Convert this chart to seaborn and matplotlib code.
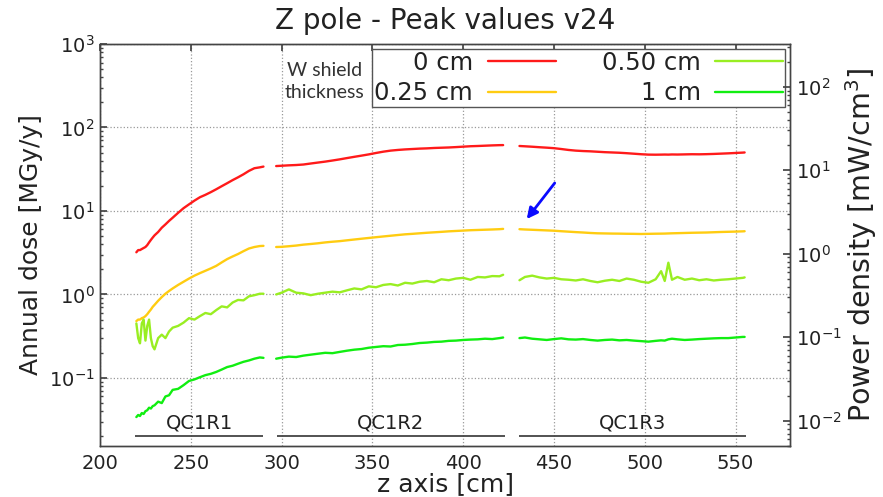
import numpy as np
import pandas as pd
import matplotlib
matplotlib.use("Agg")
import matplotlib.pyplot as plt
import seaborn as sns
from matplotlib.lines import Line2D

# z positions [cm] sampled along the three quadrupole sections
z_qc1r1 = [220, 221, 222, 223, 224, 225, 226, 227, 228, 229, 230, 232, 234, 236, 238,
           240, 243, 246, 249, 252, 255, 258, 261, 264, 267, 270, 273, 276, 279, 282,
           285, 288, 290]
z_qc1r2 = [297, 300, 304, 308, 312, 316, 320, 324, 328, 332, 336, 340, 344, 348, 352,
           356, 360, 364, 368, 372, 376, 380, 384, 388, 392, 396, 400, 404, 408, 412,
           416, 420, 422]
z_qc1r3 = [431, 434, 438, 442, 446, 450, 454, 458, 462, 466, 470, 474, 478, 482, 486,
           490, 494, 498, 502, 506, 509, 511, 513, 515, 518, 522, 526, 530, 534, 538,
           542, 546, 550, 554, 555]

# peak annual dose [MGy/y] for each W shield thickness
dose_0cm = {
    "QC1R1": [3.2, 3.4, 3.4, 3.5, 3.6, 3.7, 3.9, 4.2, 4.5, 4.8, 5.1, 5.6, 6.3, 6.9, 7.6,
              8.3, 9.5, 10.8, 12.0, 13.3, 14.6, 15.6, 16.8, 18.2, 19.8, 21.5, 23.4, 25.3,
              27.5, 30.2, 32.5, 33.3, 34.0],
    "QC1R2": [34.5, 34.8, 35.2, 35.5, 36.0, 37.0, 38.0, 39.0, 40.2, 41.5, 43.0, 44.5,
              46.0, 47.6, 49.5, 51.3, 52.8, 53.8, 54.6, 55.2, 55.8, 56.2, 56.8, 57.2,
              57.6, 58.2, 58.9, 59.6, 60.0, 60.5, 61.0, 61.4, 61.5],
    "QC1R3": [60.0, 59.5, 58.8, 58.0, 57.3, 56.5, 55.2, 53.8, 52.8, 52.2, 51.8, 51.2,
              50.6, 50.2, 49.8, 49.2, 48.5, 47.8, 47.3, 47.2, 47.3, 47.4, 47.3, 47.5,
              47.4, 47.6, 47.8, 47.7, 47.9, 48.2, 48.6, 49.0, 49.5, 50.0, 50.2],
}
dose_025cm = {
    "QC1R1": [0.48, 0.50, 0.50, 0.52, 0.53, 0.55, 0.58, 0.62, 0.66, 0.71, 0.75, 0.84,
              0.93, 1.02, 1.10, 1.18, 1.30, 1.42, 1.55, 1.68, 1.80, 1.92, 2.05, 2.20,
              2.42, 2.65, 2.85, 3.05, 3.30, 3.55, 3.70, 3.80, 3.82],
    "QC1R2": [3.70, 3.72, 3.78, 3.85, 3.95, 4.02, 4.10, 4.20, 4.28, 4.35, 4.45, 4.55,
              4.65, 4.75, 4.85, 4.95, 5.05, 5.15, 5.25, 5.32, 5.40, 5.48, 5.55, 5.62,
              5.70, 5.76, 5.82, 5.88, 5.92, 5.96, 6.00, 6.05, 6.10],
    "QC1R3": [6.05, 6.00, 5.95, 5.90, 5.85, 5.80, 5.72, 5.65, 5.58, 5.52, 5.45, 5.40,
              5.38, 5.36, 5.35, 5.33, 5.32, 5.30, 5.32, 5.34, 5.35, 5.36, 5.38, 5.40,
              5.42, 5.45, 5.48, 5.50, 5.52, 5.56, 5.60, 5.63, 5.66, 5.70, 5.72],
}
dose_050cm = {
    "QC1R1": [0.45, 0.30, 0.26, 0.45, 0.50, 0.28, 0.42, 0.50, 0.30, 0.24, 0.22, 0.30,
              0.33, 0.30, 0.36, 0.40, 0.42, 0.46, 0.52, 0.50, 0.55, 0.60, 0.58, 0.65,
              0.72, 0.70, 0.80, 0.86, 0.85, 0.95, 0.98, 1.02, 1.02],
    "QC1R2": [1.00, 1.05, 1.15, 1.05, 1.03, 0.98, 1.02, 1.05, 1.08, 1.06, 1.12, 1.18,
              1.15, 1.25, 1.22, 1.30, 1.33, 1.28, 1.38, 1.35, 1.42, 1.45, 1.40, 1.52,
              1.48, 1.55, 1.58, 1.50, 1.62, 1.60, 1.66, 1.65, 1.72],
    "QC1R3": [1.48, 1.62, 1.68, 1.60, 1.55, 1.58, 1.52, 1.50, 1.47, 1.52, 1.45, 1.40,
              1.46, 1.50, 1.45, 1.55, 1.50, 1.42, 1.38, 1.52, 1.90, 1.45, 2.40, 1.50,
              1.62, 1.50, 1.55, 1.48, 1.52, 1.47, 1.50, 1.52, 1.55, 1.58, 1.60],
}
dose_1cm = {
    "QC1R1": [0.034, 0.036, 0.035, 0.038, 0.037, 0.040, 0.041, 0.044, 0.043, 0.046,
              0.047, 0.052, 0.050, 0.060, 0.062, 0.072, 0.074, 0.082, 0.092, 0.096,
              0.102, 0.108, 0.112, 0.118, 0.126, 0.135, 0.140, 0.148, 0.156, 0.162,
              0.170, 0.176, 0.174],
    "QC1R2": [0.170, 0.175, 0.180, 0.178, 0.185, 0.190, 0.195, 0.200, 0.198, 0.205,
              0.212, 0.218, 0.222, 0.230, 0.235, 0.240, 0.238, 0.248, 0.250, 0.255,
              0.262, 0.265, 0.270, 0.272, 0.278, 0.280, 0.285, 0.288, 0.290, 0.295,
              0.292, 0.300, 0.305],
    "QC1R3": [0.300, 0.305, 0.295, 0.290, 0.285, 0.292, 0.298, 0.290, 0.288, 0.292,
              0.285, 0.280, 0.285, 0.288, 0.282, 0.285, 0.280, 0.276, 0.272, 0.278,
              0.282, 0.280, 0.290, 0.295, 0.290, 0.285, 0.288, 0.292, 0.295, 0.298,
              0.300, 0.300, 0.305, 0.310, 0.310],
}

thickness_labels = ["0 cm", "0.25 cm", "0.50 cm", "1 cm"]
line_colors = ["#ff1a1a", "#ffcc11", "#99ee22", "#11ee11"]
section_names = ["QC1R1", "QC1R2", "QC1R3"]
section_spans = [(219.5, 289.7), (297.4, 423.0), (430.6, 556.0)]
dose_to_power = 1 / 3.08   # MGy/y -> mW/cm^3

z_by_section = dict(zip(section_names, [z_qc1r1, z_qc1r2, z_qc1r3]))
series = dict(zip(thickness_labels, [dose_0cm, dose_025cm, dose_050cm, dose_1cm]))

rows = []
for label, per_section in series.items():
    for sec in section_names:
        for z, d in zip(z_by_section[sec], per_section[sec]):
            rows.append({"z": z, "dose": d, "thickness": label, "section": sec})
df = pd.DataFrame(rows)

sns.set_theme(style="white", rc={
    "axes.edgecolor": "#444444",
    "axes.linewidth": 1.0,
    "xtick.color": "#444444",
    "ytick.color": "#444444",
    "xtick.labelcolor": "#222222",
    "ytick.labelcolor": "#222222",
})
plt.rcParams["font.family"] = ["DejaVu Sans"]
plt.rcParams["mathtext.fontset"] = "dejavusans"

fig = plt.figure(figsize=(8.83, 4.97), dpi=100)
ax = fig.add_axes([0.1133, 0.1026, 0.7814, 0.8089])

palette = dict(zip(thickness_labels, line_colors))
sns.lineplot(data=df, x="z", y="dose", hue="thickness", hue_order=thickness_labels,
             units="section", estimator=None, palette=palette, linewidth=1.7,
             legend=False, ax=ax)

ax.set_yscale("log")
ax.set_ylim(0.0153, 1000)
ax.set_xlim(200, 580)
ax.set_xticks([200, 250, 300, 350, 400, 450, 500, 550])
ax.grid(True, which="major", linestyle=":", color="#999999", linewidth=0.9)
ax.tick_params(axis="both", which="both", direction="in", labelsize=14)
ax.tick_params(axis="x", top=True, length=5, pad=6)
ax.tick_params(axis="y", which="major", length=5, pad=4)
ax.tick_params(axis="y", which="minor", length=2.5)
ax.set_xlabel("z axis [cm]", fontsize=18, labelpad=-1, color="#222222")
ax.set_ylabel("Annual dose [MGy/y]", fontsize=18, labelpad=4, color="#222222")
ax.set_title("Z pole - Peak values v24", fontsize=20, pad=11, color="#222222")

twin = ax.twinx()
twin.set_yscale("log")
twin.set_ylim(0.0153 * dose_to_power, 1000 * dose_to_power)
twin.tick_params(axis="y", which="both", direction="in", labelsize=14)
twin.tick_params(axis="y", which="major", length=5, pad=4)
twin.tick_params(axis="y", which="minor", length=2.5)
twin.set_ylabel("Power density [mW/cm$^3$]", fontsize=20.5, labelpad=1, color="#222222")
twin.grid(False)

# magnet sections along z
bar_level, name_level = 0.0203, 0.029
for name, (z0, z1) in zip(section_names, section_spans):
    ax.hlines(bar_level, z0, z1, color="#444444", linewidth=1.3)
    ax.text((z0 + z1) / 2, name_level, name, ha="center", va="center",
            fontsize=14, color="#222222")

ax.annotate("", xy=(435, 8.0), xytext=(450.4, 21.6),
            arrowprops=dict(arrowstyle="-|>", color="#0a0aff", lw=2,
                            mutation_scale=16, shrinkA=0, shrinkB=0))

handles = [Line2D([], [], color=c, lw=1.7) for c in line_colors]
leg = ax.legend(handles, thickness_labels, ncol=2, loc="upper right",
                markerfirst=False, fontsize=17.5, frameon=True, fancybox=False,
                borderaxespad=0.2, borderpad=0.08, labelspacing=0.27,
                handlelength=2.8, handletextpad=0.6, columnspacing=1.9)
leg.get_frame().set_edgecolor("#555555")
leg.get_frame().set_linewidth(1.0)
leg.get_frame().set_alpha(1)
for t in leg.get_texts():
    t.set_color("#222222")

ax.text(0.326, 0.907, "W shield\nthickness", transform=ax.transAxes,
        ha="center", va="center", fontsize=14, linespacing=1.4,
        color="#333333", family=["Lato", "DejaVu Sans"])

fig.savefig("out.png", dpi=100)
